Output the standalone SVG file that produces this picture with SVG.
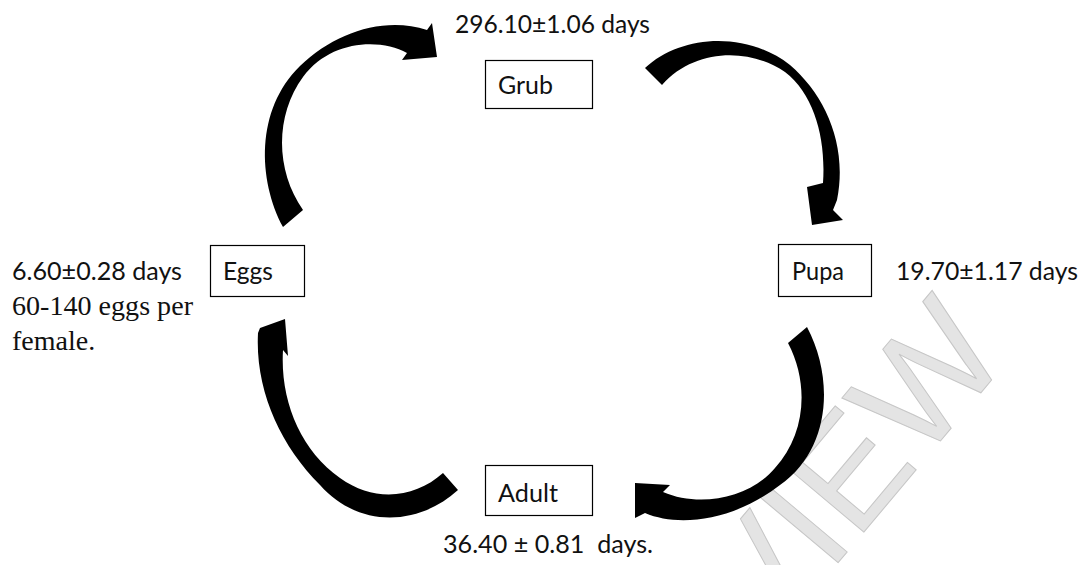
<svg xmlns="http://www.w3.org/2000/svg" width="1090" height="565" viewBox="0 0 1090 565">
<style>
.box{fill:#fff;stroke:#000;stroke-width:1.2}
.lbl{font-family:Lato,"Open Sans","Liberation Sans",sans-serif;font-size:25px;fill:#111}
.ser{font-family:"Liberation Serif","Times New Roman",serif;font-size:28px;fill:#111}
.arr{fill:#000;stroke:none}
.wm{font-family:"Liberation Sans",Arial,sans-serif;font-size:150px;fill:#e4e4e4;stroke:#c6c6c6;stroke-width:1}
</style>
<rect width="1090" height="565" fill="#fff"/>
<text class="wm" transform="translate(765,650) rotate(-50)">VIEW</text>
<g id="connectors">
<path id="eggs-grub" class="arr" d="M283,227 C258,180 255,110 300,66 C335,32 385,16 427,30 L432,23 L437,57 L402,60 L407,53 C380,38 330,40 303,77 C275,115 275,170 303,210 Z"/>
<path id="grub-pupa" class="arr" d="M645,68 C680,35 745,30 790,65 C825,95 848,145 837,200 L833,210 L843,220 L812,225 L807,187 L823,183 C826,140 815,95 785,72 C750,48 695,48 662,85 Z"/>
<path id="pupa-adult" class="arr" d="M807,327 C835,380 830,450 780,485 C735,520 680,528 645,513 L635,518 L635,483 L670,485 L663,492 C700,508 750,498 775,468 C805,435 810,385 788,343 Z"/>
<path id="adult-eggs" class="arr" d="M458,490 C420,525 360,530 320,485 C280,445 255,390 258,333 L260,328 L285,319 L288,356 L283,350 C280,400 300,450 340,478 C375,503 415,498 443,473 Z"/>
</g>
<g id="grub">
<rect class="box" x="485.5" y="60.5" width="107" height="48"/>
<text class="lbl" x="498" y="94" textLength="55" lengthAdjust="spacingAndGlyphs">Grub</text>
<text class="lbl" x="455" y="33" textLength="195" lengthAdjust="spacingAndGlyphs">296.10±1.06 days</text>
</g>
<g id="eggs">
<rect class="box" x="210.5" y="245.5" width="94" height="51"/>
<text class="lbl" x="223" y="280" textLength="50" lengthAdjust="spacingAndGlyphs">Eggs</text>
<text class="lbl" x="12" y="280" textLength="170" lengthAdjust="spacingAndGlyphs">6.60±0.28 days</text>
<text class="ser" x="12" y="315" textLength="181" lengthAdjust="spacingAndGlyphs">60-140 eggs per</text>
<text class="ser" x="12" y="350">female.</text>
</g>
<g id="pupa">
<rect class="box" x="778.5" y="244.5" width="93" height="52"/>
<text class="lbl" x="792" y="280" textLength="52" lengthAdjust="spacingAndGlyphs">Pupa</text>
<text class="lbl" x="896" y="280" textLength="182" lengthAdjust="spacingAndGlyphs">19.70±1.17 days</text>
</g>
<g id="adult">
<rect class="box" x="485.5" y="465.5" width="107" height="50"/>
<text class="lbl" x="498" y="502" textLength="60" lengthAdjust="spacingAndGlyphs">Adult</text>
<text class="lbl" x="443" y="553" textLength="210" lengthAdjust="spacingAndGlyphs" xml:space="preserve">36.40 ± 0.81  days.</text>
</g>
</svg>
